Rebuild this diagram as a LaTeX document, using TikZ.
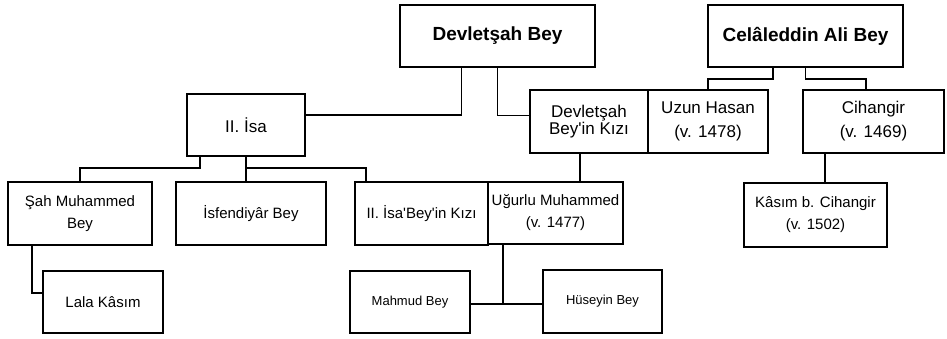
\documentclass[tikz,border=0pt]{standalone}
\usepackage{fontspec}
\setmainfont{Liberation Sans}
\usetikzlibrary{positioning}
\tikzset{
  person/.style={rectangle, draw, line width=1.8pt, inner sep=1pt, align=center, minimum height=62pt},
  head/.style={person, font=\bfseries\fontsize{19}{23}\selectfont, minimum width=195pt},
  middle/.style={person, font=\fontsize{17}{24}\selectfont, minimum height=63pt},
  child1/.style={person, font=\fontsize{15}{22}\selectfont, minimum height=63pt},
  child2/.style={person, font=\fontsize{13}{17}\selectfont, minimum width=120pt},
  link/.style={line width=1.8pt}
}

\begin{document}
\begin{tikzpicture}[x=1pt, y=-1pt]
  \useasboundingbox (0,0) rectangle (947,338);
  % top generation
  \node [head] (devletsah) at (497.5,36) {Devletşah Bey};
  \node [head] (celaleddin) at (805.5,36) {Celâleddin Ali Bey};
  % second generation
  \node [person, font=\fontsize{17}{23}\selectfont, minimum width=118pt] (isa) at (246,125) {II. İsa};
  \node [middle, minimum width=118pt, font=\fontsize{17}{17}\selectfont] (kizi) at (589,121.5) {Devletşah\\Bey\textquotesingle in Kızı};
  \node [middle, minimum width=120pt] (uzun) at (708,121.5) {Uzun Hasan\\(v. 1478)};
  \node [middle, minimum width=141pt] (cihangir) at (873.5,121.5) {Cihangir\\(v. 1469)};
  % third generation
  \node [child1, minimum width=144pt] (sah) at (80,213.5) {Şah Muhammed\\Bey};
  \node [child1, minimum width=150pt] (isfendiyar) at (251,213.5) {İsfendiyâr Bey};
  \node [child1, minimum width=133pt] (isakizi) at (421.5,213.5) {II. İsa\textquotesingle Bey\textquotesingle in Kızı};
  \node [child1, minimum width=135pt, minimum height=62pt] (ugurlu) at (555.5,213) {Uğurlu Muhammed\\(v. 1477)};
  \node [child1, minimum width=143pt, minimum height=64pt] (kasim) at (815.5,215) {Kâsım b. Cihangir\\(v. 1502)};
  % fourth generation
  \node [child1, minimum width=120pt, minimum height=62pt] (lala) at (103,302) {Lala Kâsım};
  \node [child2] (mahmud) at (410,302) {Mahmud Bey};
  \node [child2, minimum width=119pt, minimum height=63pt] (huseyin) at (602.5,301.5) {Hüseyin Bey};

  \draw [link] ([yshift=10pt]isa.east) -| ([xshift=-36pt]devletsah.south);
  \draw [link] (devletsah.south) |- ([yshift=6pt]kizi.west);
  \draw [link] ([xshift=-32.5pt]celaleddin.south) -- ++(0,11) -| (uzun.north);
  \draw [link] (celaleddin.south) -- ++(0,11) -| ([xshift=-7.5pt]cihangir.north);
  \draw [link] ([xshift=-46pt]isa.south) -- ++(0,11) -| (sah.north);
  \draw [link] (isa.south) -- (isa.south |- isfendiyar.north);
  \draw [link] (isa.south) ++(0,11) -| ([xshift=-55.5pt]isakizi.north);
  \draw [link] ([xshift=-9pt]kizi.south) -- ([xshift=-9pt]kizi.south |- ugurlu.north);
  \draw [link] ([xshift=-48.5pt]cihangir.south) -- ([xshift=-48.5pt]cihangir.south |- kasim.north);
  \draw [link] ([xshift=-48pt]sah.south) |- ([yshift=9pt]lala.west);
  \draw [link, line width=2.8pt] ([xshift=-52.5pt]ugurlu.south) -- ++(0,60);
  \draw [link, line width=2.4pt] ([yshift=-2pt]mahmud.east) -- ([yshift=-2.5pt]huseyin.west);
\end{tikzpicture}
\end{document}
